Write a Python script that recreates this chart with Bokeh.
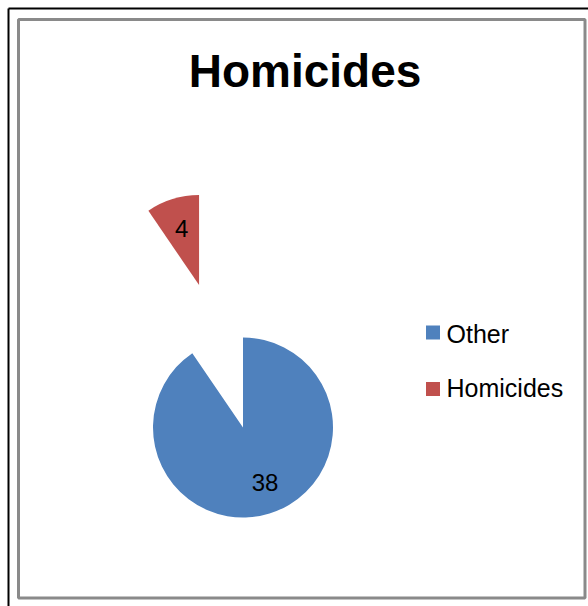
import math
from bokeh.plotting import figure
from bokeh.models import Range1d, ColumnDataSource
from bokeh.core.properties import value
from bokeh.embed import file_html
from bokeh.resources import INLINE

# ---- data ----
categories = ["Other", "Homicides"]
counts = [38, 4]
colors = ["#4F81BD", "#C0504D"]
chart_title = "Homicides"

# ---- layout (reference pixels -> data coords) ----
W, H = 588, 606
def X(px):
    return px
def Y(py):
    return H - py

p = figure(width=W, height=H, output_backend="svg", toolbar_location=None,
           x_range=Range1d(0, W), y_range=Range1d(0, H), min_border=0,
           x_axis_type=None, y_axis_type=None)
p.xgrid.visible = False
p.ygrid.visible = False
p.outline_line_color = None
p.background_fill_color = "white"
p.border_fill_color = "white"

# outer black frame lines (top & left visible)
p.segment(x0=[X(8), X(8)], y0=[Y(8), Y(8)], x1=[X(W), X(8)], y1=[Y(8), Y(H)],
          line_color="black", line_width=2)
# inner gray chart border
p.quad(left=X(18), right=X(584.5), top=Y(19), bottom=Y(597.5),
       fill_color=None, line_color="#8a8a8a", line_width=3)

# ---- pie ----
R = 90
cx0, cy0 = X(242.5), Y(427)
explode = [0, 149]
total = sum(counts)
starts, ends, xs, ys, lx, ly = [], [], [], [], [], []
acc = 0.0
for c, e in zip(counts, explode):
    a0 = math.pi / 2 - 2 * math.pi * acc / total
    acc += c
    a1 = math.pi / 2 - 2 * math.pi * acc / total
    mid = (a0 + a1) / 2
    x = cx0 + e * math.cos(mid)
    y = cy0 + e * math.sin(mid)
    starts.append(a0); ends.append(a1)
    xs.append(x); ys.append(y)
    lx.append(x + 0.66 * R * math.cos(mid + 0.08 * (e == 0)))
    ly.append(y + 0.66 * R * math.sin(mid + 0.08 * (e == 0)))

src = ColumnDataSource(dict(x=xs, y=ys, start=starts, end=ends, color=colors,
                            lx=lx, ly=ly, label=[str(c) for c in counts],
                            cat=categories))
p.wedge(x="x", y="y", radius=R, start_angle="start", end_angle="end",
        direction="clock", fill_color="color", line_color=None, source=src)
p.text(x="lx", y="ly", text="label", source=src, text_align="center",
       text_baseline="middle", text_font=value("Liberation Sans"),
       text_font_size="24px", text_color="black")

# ---- legend ----
leg = ColumnDataSource(dict(x=[X(432.5)] * 2, y=[Y(332), Y(388.5)],
                            tx=[X(446)] * 2, ty=[Y(333), Y(387.5)],
                            color=colors, cat=categories))
p.scatter(x="x", y="y", marker="square", size=14, fill_color="color",
          line_color=None, source=leg)
p.text(x="tx", y="ty", text="cat", source=leg, text_align="left",
       text_baseline="middle", text_font=value("Liberation Sans"),
       text_font_size="25px", text_color="black")

# ---- title ----
p.text(x=[X(304.5)], y=[Y(70)], text=[chart_title], text_align="center",
       text_baseline="middle", text_font=value("Liberation Sans"),
       text_font_style="bold", text_font_size="46px", text_color="black")

open("out.html", "w").write(file_html(p, INLINE))
